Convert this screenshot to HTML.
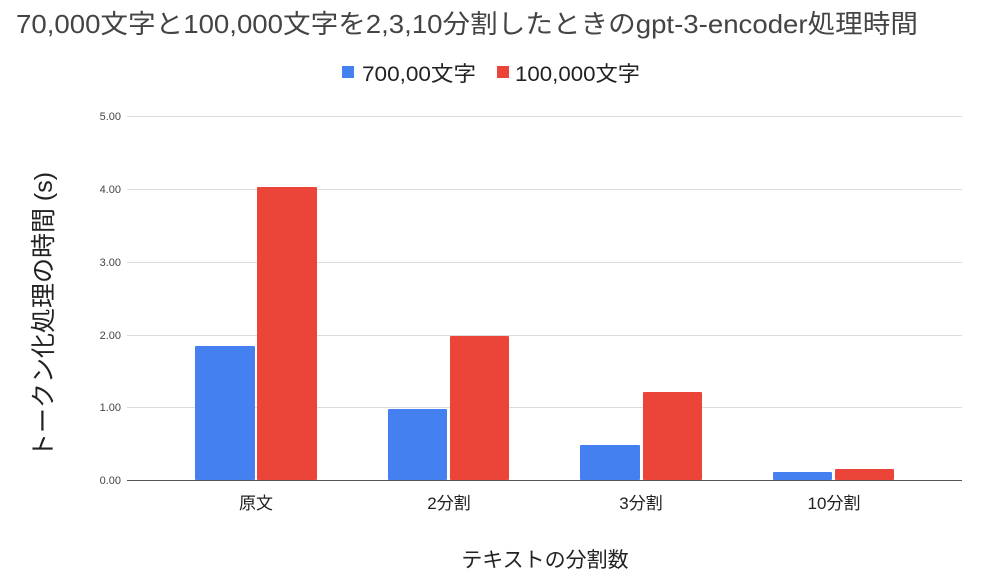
<!DOCTYPE html>
<html><head><meta charset="utf-8"><style>
body{margin:0;background:#fff}
svg{display:block}
text{font-family:"Liberation Sans","Noto Sans CJK JP",sans-serif}
</style></head><body>
<svg width="1000" height="584" viewBox="0 0 1000 584">
<text x="16" y="33" font-size="26" fill="#444" textLength="902" lengthAdjust="spacingAndGlyphs">70,000文字と100,000文字を2,3,10分割したときのgpt-3-encoder処理時間</text>
<rect x="342" y="66" width="12" height="12" fill="#4580f1"/>
<text x="362" y="81" font-size="21" fill="#222" textLength="114" lengthAdjust="spacingAndGlyphs">700,00文字</text>
<rect x="497" y="66" width="12" height="12" fill="#ea4538"/>
<text x="515" y="81" font-size="21" fill="#222" textLength="125" lengthAdjust="spacingAndGlyphs">100,000文字</text>
<g stroke="#dddddd" stroke-width="1">
<line x1="127" x2="962" y1="116.5" y2="116.5"/>
<line x1="127" x2="962" y1="189.5" y2="189.5"/>
<line x1="127" x2="962" y1="262.5" y2="262.5"/>
<line x1="127" x2="962" y1="335.5" y2="335.5"/>
<line x1="127" x2="962" y1="407.5" y2="407.5"/>
</g>
<g font-size="11" fill="#444" text-anchor="end">
<text x="121" y="120">5.00</text>
<text x="121" y="193">4.00</text>
<text x="121" y="266">3.00</text>
<text x="121" y="339">2.00</text>
<text x="121" y="411">1.00</text>
<text x="121" y="484">0.00</text>
</g>
<g fill="#4580f1">
<rect x="195" y="346" width="60" height="134" rx="1"/>
<rect x="388" y="409" width="59" height="71" rx="1"/>
<rect x="580" y="445" width="60" height="35" rx="1"/>
<rect x="773" y="472" width="59" height="8" rx="1"/>
</g>
<g fill="#ea4538">
<rect x="257" y="187" width="60" height="293" rx="1"/>
<rect x="450" y="336" width="59" height="144" rx="1"/>
<rect x="643" y="392" width="59" height="88" rx="1"/>
<rect x="835" y="469" width="59" height="11" rx="1"/>
</g>
<line x1="127" x2="962" y1="480.5" y2="480.5" stroke="#555" stroke-width="1"/>
<g font-size="17" fill="#222" text-anchor="middle">
<text x="256" y="509">原文</text>
<text x="449" y="509">2分割</text>
<text x="641" y="509">3分割</text>
<text x="834" y="509">10分割</text>
</g>
<text x="545" y="567" font-size="21" fill="#222" text-anchor="middle">テキストの分割数</text>
<text transform="translate(52,315) rotate(-90)" font-size="25" fill="#222" text-anchor="middle">トークン化処理の時間 (s)</text>
</svg>
</body></html>
